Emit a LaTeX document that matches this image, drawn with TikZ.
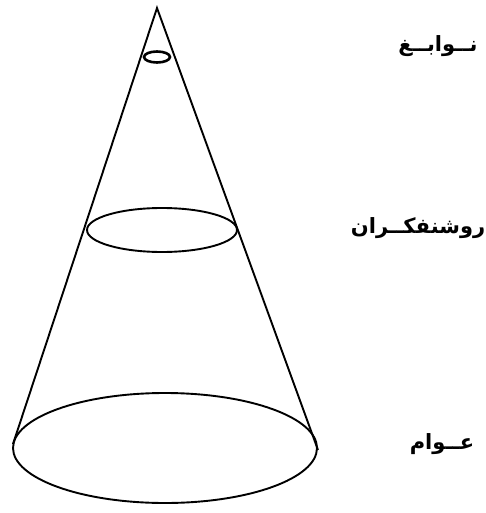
\documentclass[tikz,border=0pt]{standalone}
\usepackage{fontspec}
\newfontfamily\arabicfont[Script=Arabic]{DejaVu Sans}
\TeXXeTstate=1
\begin{document}
\begin{tikzpicture}[x=1pt,y=-1pt,
  edge/.style={line width=1.9pt,black},
  lbl/.style={font=\arabicfont\bfseries\fontsize{21}{24}\selectfont,inner sep=0pt}]
\useasboundingbox (0,0) rectangle (486,513);
\coordinate (apex) at (157,8);
\coordinate (bl) at (13,444);
\coordinate (br) at (318,450);
\draw[edge] (bl) -- (apex) -- (br);
\draw[edge,line width=2.6pt] (157,57) ellipse [x radius=13, y radius=5.5];
\draw[edge] (162,230) ellipse [x radius=75, y radius=22];
\draw[edge] (165,448) ellipse [x radius=152, y radius=55];
\node[lbl] (t1) at (438,46) {\beginR نــوابــغ\endR};
\node[lbl] (t2) at (418,228) {\beginR روشنفکــران\endR};
\node[lbl] (t3) at (442,444) {\beginR عــوام\endR};
\end{tikzpicture}
\end{document}
